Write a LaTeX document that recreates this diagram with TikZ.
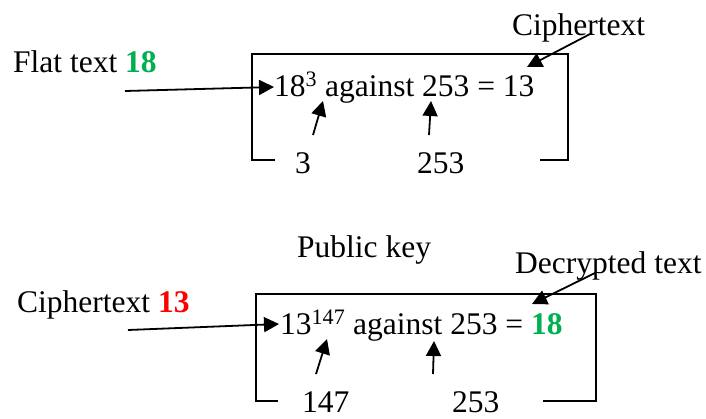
\documentclass[tikz,border=0pt]{standalone}
\usepackage{fontspec}
\setmainfont{Liberation Serif}
\usetikzlibrary{arrows.meta}
\definecolor{okgreen}{RGB}{0,176,80}
\definecolor{badred}{RGB}{255,0,0}
\tikzset{
  lbl/.style={anchor=base west, inner sep=0pt, font=\fontsize{31.5}{36}\selectfont},
  frame/.style={line width=1.8pt, line cap=butt, line join=miter},
  pointer/.style={line width=1.8pt, -{Triangle[length=15pt,width=15pt]}},
}
\begin{document}
\begin{tikzpicture}[x=1pt,y=-1pt]
\useasboundingbox (0,0) rectangle (706,418);

% ---------- encryption ----------
\node[lbl] (flat) at (13,72) {Flat text \textbf{\color{okgreen}18}};
\node[lbl] (f1) at (274,96) {18\textsuperscript{3} against 253 = 13};
\node[lbl] (ct1) at (512,35) {Ciphertext};
\node[lbl] (e) at (295,173) {3};
\node[lbl] (n1) at (417,173) {253};

\draw[frame] (275,160) -- (252,160) -- (252,54) -- (568,54) -- (568,160) -- (540,160);

\coordinate (flatstart) at (125,91);
\coordinate (f1in) at (274,87);
\coordinate (ctstart) at (592,33);
\coordinate (ctend) at (527,67);
\coordinate (estart) at (313,135);
\coordinate (eend) at (323,101);
\coordinate (n1start) at (429,135);
\coordinate (n1end) at (431,101);

\draw[pointer] (flatstart) -- (f1in);
\draw[pointer] (ctstart) -- (ctend);
\draw[pointer] (estart) -- (eend);
\draw[pointer] (n1start) -- (n1end);

% ---------- decryption ----------
\node[lbl] (pk) at (297,257) {Public key};
\node[lbl] (dec) at (515,273) {Decrypted text};
\node[lbl] (ct2) at (17,312) {Ciphertext \textbf{\color{badred}13}};
\node[lbl] (f2) at (280,334) {13\textsuperscript{147} against 253 = \textbf{\color{okgreen}18}};
\node[lbl] (d) at (302,412) {147};
\node[lbl] (n2) at (452,412) {253};

\draw[frame] (278,401) -- (256,401) -- (256,294) -- (596,294) -- (596,401) -- (543,401);

\coordinate (ctbstart) at (128,330);
\coordinate (f2in) at (279,324);
\coordinate (decstart) at (595,273);
\coordinate (decend) at (532,304);
\coordinate (dstart) at (316,374);
\coordinate (dend) at (327,339);
\coordinate (n2start) at (433,374);
\coordinate (n2end) at (434,341);

\draw[pointer] (ctbstart) -- (f2in);
\draw[pointer] (decstart) -- (decend);
\draw[pointer] (dstart) -- (dend);
\draw[pointer] (n2start) -- (n2end);
\end{tikzpicture}
\end{document}
